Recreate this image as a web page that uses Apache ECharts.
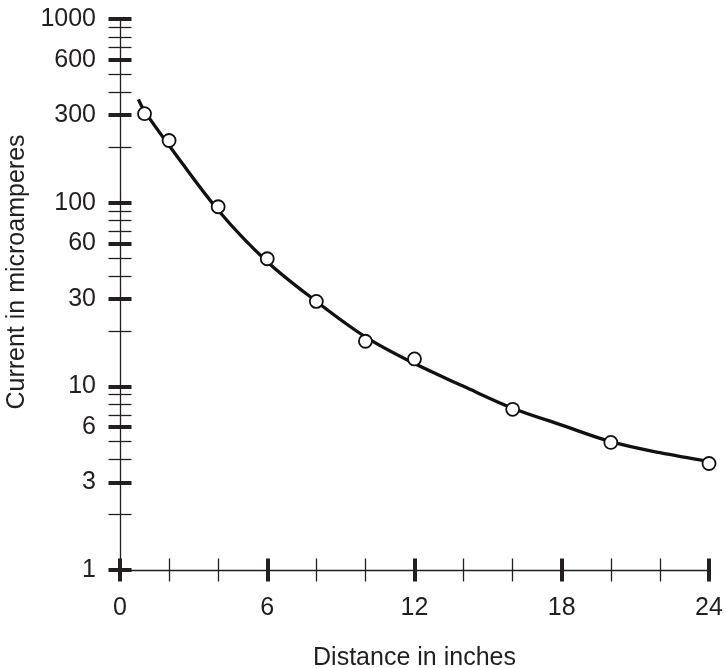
<!DOCTYPE html>
<html>
<head>
<meta charset="utf-8">
<script src="https://cdn.jsdelivr.net/npm/echarts@6/dist/echarts.min.js"></script>
<style>
html,body{margin:0;padding:0;background:#fff;}
#chart{width:726px;height:668px;}
</style>
</head>
<body>
<div id="chart"></div>
<script>
// Measured data points (distance in inches, current in microamperes)
const pointX = [1, 2, 4, 6, 8, 10, 12, 16, 20, 24];
const pointY = [305, 218, 95, 49.5, 29, 17.6, 14.1, 7.5, 4.95, 3.8];

// Fitted curve
const curveX = [0.75, 1, 2, 4, 6, 8, 10, 12, 14, 16, 18, 20, 22, 24];
const curveY = [365, 315, 205, 91, 47.7, 29, 18.6, 13.3, 10.0, 7.6, 6.15, 5.0, 4.35, 3.9];

// Tick values
const yMajorTicks = [1, 3, 6, 10, 30, 60, 100, 300, 600, 1000];
const yMinorTicks = [2, 4, 5, 7, 8, 9, 20, 40, 50, 70, 80, 90, 200, 400, 500, 700, 800, 900];
const xMajorTicks = [0, 6, 12, 18, 24];
const xMinorTicks = [2, 4, 8, 10, 14, 16, 20, 22];

const xTitle = 'Distance in inches';
const yTitle = 'Current in microamperes';

const ink = '#231f20';
const font = '"Liberation Sans", Arial, Helvetica, sans-serif';

function xAxisDef(ticks, inside, width, withLabels) {
  return {
    type: 'value', min: 0, max: 24, position: 'bottom', offset: 0,
    axisLine: { show: withLabels, onZero: false, lineStyle: { color: ink, width: 1.3 } },
    splitLine: { show: false },
    axisTick: { show: true, inside: inside, length: 11.5, customValues: ticks, lineStyle: { color: ink, width: width } },
    axisLabel: withLabels ? {
      show: true, customValues: xMajorTicks, margin: 26, color: ink, fontFamily: font, fontSize: 25,
      formatter: v => String(Math.round(v))
    } : { show: false },
    name: withLabels ? xTitle : '',
    nameLocation: 'middle', nameGap: 76,
    nameTextStyle: { color: ink, fontFamily: font, fontSize: 25 }
  };
}
function yAxisDef(ticks, inside, width, withLabels) {
  return {
    type: 'log', logBase: 10, min: 1, max: 1000, position: 'left', offset: 0,
    axisLine: { show: withLabels, onZero: false, lineStyle: { color: ink, width: 1.3 } },
    splitLine: { show: false },
    axisTick: { show: true, inside: inside, length: 11.5, customValues: ticks, lineStyle: { color: ink, width: width } },
    axisLabel: withLabels ? {
      show: true, customValues: yMajorTicks, margin: 24, color: ink, fontFamily: font, fontSize: 25,
      formatter: v => String(Math.round(v))
    } : { show: false },
    name: withLabels ? yTitle : '',
    nameLocation: 'middle', nameGap: 90,
    nameTextStyle: { color: ink, fontFamily: font, fontSize: 25, padding: [0, 0, 0, 45] }
  };
}

const chart = echarts.init(document.getElementById('chart'), null, { renderer: 'canvas' });
chart.setOption({
  backgroundColor: '#fff',
  animation: false,
  grid: { left: 120, right: 17, top: 19, bottom: 98, containLabel: false, outerBoundsMode: 'none' },
  xAxis: [
    xAxisDef(xMajorTicks, false, 4, true),
    xAxisDef(xMajorTicks, true, 4, false),
    xAxisDef(xMinorTicks, false, 1.3, false),
    xAxisDef(xMinorTicks, true, 1.3, false)
  ],
  yAxis: [
    yAxisDef(yMajorTicks, false, 4, true),
    yAxisDef(yMajorTicks, true, 4, false),
    yAxisDef(yMinorTicks, false, 1.3, false),
    yAxisDef(yMinorTicks, true, 1.3, false)
  ],
  series: [
    {
      type: 'line', name: 'fit', xAxisIndex: 0, yAxisIndex: 0,
      data: curveX.map((x, i) => [x, curveY[i]]),
      smooth: 0.35, showSymbol: false, symbol: 'none',
      lineStyle: { color: '#111', width: 3.3 }, z: 3
    },
    {
      type: 'scatter', name: 'measured', xAxisIndex: 0, yAxisIndex: 0,
      data: pointX.map((x, i) => [x, pointY[i]]),
      symbol: 'circle', symbolSize: 13,
      itemStyle: { color: '#fff', borderColor: '#111', borderWidth: 1.8, opacity: 1 }, z: 5
    }
  ]
});
</script>
</body>
</html>
